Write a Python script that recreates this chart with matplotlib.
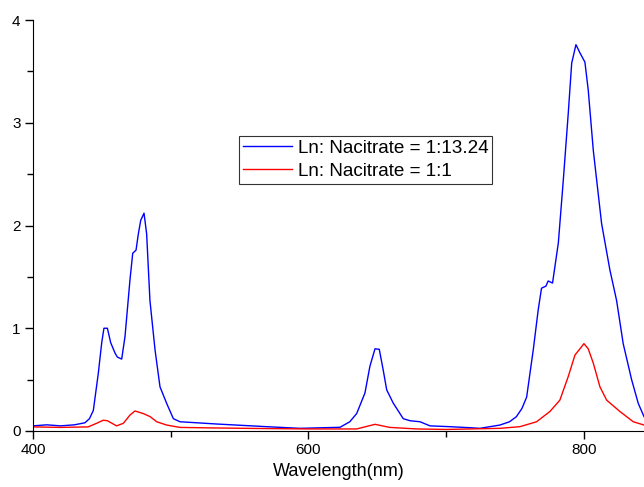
import numpy as np
import matplotlib
matplotlib.use('Agg')
from matplotlib import pyplot as plt
from matplotlib.ticker import MultipleLocator

plt.rcParams['font.family'] = ['Liberation Sans', 'DejaVu Sans']

# blue curve: Ln : Nacitrate = 1:13.24
wl_blue = [400, 410, 420, 430, 437.7, 441, 443.8, 447.4, 449.9, 451.5, 454, 456.4, 459.5, 461.2,
           464.4, 466.8, 470.4, 472.4, 474.8, 476.5, 478.2, 480.6, 482.5, 484.9, 488.6,
           492.2, 497, 501.9, 506.7, 533.4, 569.7, 593.8, 622.9, 630, 635, 641, 644.6,
           648.3, 651.4, 654.3, 656.8, 661.6, 668.8, 673.7, 681, 688.2, 702.7, 717.2,
           724.5, 739, 746, 751, 755, 758.4, 763.2, 766.8, 769.2, 772.4, 774, 777.2, 781.4, 785,
           788.6, 791.1, 794.2, 797.1, 800.7, 803.1, 806.8, 812.8, 818.8, 823.7, 828.5,
           834.6, 839.4, 843.6]
int_blue = [0.05, 0.06, 0.05, 0.06, 0.08, 0.12, 0.2, 0.56, 0.86, 1.0, 1.0, 0.86, 0.76, 0.72,
            0.70, 0.92, 1.47, 1.73, 1.76, 1.92, 2.05, 2.12, 1.92, 1.27, 0.79,
            0.43, 0.27, 0.12, 0.09, 0.068, 0.042, 0.026, 0.036, 0.09, 0.17, 0.37, 0.63,
            0.80, 0.795, 0.59, 0.40, 0.27, 0.12, 0.10, 0.09, 0.05, 0.042, 0.032,
            0.026, 0.058, 0.09, 0.14, 0.22, 0.33, 0.79, 1.18, 1.39, 1.41, 1.46, 1.44, 1.83, 2.44,
            3.09, 3.58, 3.76, 3.68, 3.59, 3.32, 2.73, 2.02, 1.57, 1.27, 0.85,
            0.50, 0.27, 0.14]

# red curve: Ln : Nacitrate = 1:1
wl_red = [400, 420, 440, 446.2, 451, 454, 460.7, 465.6, 470.4, 474, 480, 485, 489.8, 497,
          506.7, 530, 560, 600, 635, 648.3, 659, 678.5, 700, 739, 753.5, 765.6, 775.3,
          782.5, 788.6, 793.5, 797.1, 800, 803.1, 806.8, 811.6, 816.5, 826.1, 835.8, 843.6]
int_red = [0.04, 0.035, 0.04, 0.075, 0.105, 0.1, 0.05, 0.075, 0.155, 0.195, 0.17, 0.14, 0.09, 0.058,
           0.035, 0.03, 0.025, 0.02, 0.02, 0.065, 0.035, 0.02, 0.015, 0.026, 0.042, 0.09, 0.19,
           0.30, 0.53, 0.74, 0.80, 0.85, 0.80, 0.66, 0.43, 0.30, 0.19, 0.09, 0.058]

fig = plt.figure(figsize=(6.44, 4.87), dpi=100)
ax = fig.add_axes([33/644, 56/487, 1 - 33/644, 411/487])

ax.plot(wl_blue, int_blue, color='#0000ff', lw=1.0, label='Ln: Nacitrate = 1:13.24')
ax.plot(wl_red, int_red, color='#ff0000', lw=1.0, label='Ln: Nacitrate = 1:1')

ax.set_xlim(400, 843.6)
ax.set_ylim(0, 4)
ax.xaxis.set_major_locator(MultipleLocator(200))
ax.xaxis.set_minor_locator(MultipleLocator(100))
ax.yaxis.set_major_locator(MultipleLocator(1))
ax.yaxis.set_minor_locator(MultipleLocator(0.5))
ax.tick_params(which='major', direction='out', length=6, width=1, labelsize=11, pad=3)
ax.tick_params(which='minor', direction='out', length=4, width=1)
ax.spines['top'].set_visible(False)
ax.spines['right'].set_visible(False)
ax.set_xlabel('Wavelength(nm)', fontsize=13, labelpad=4)

leg = ax.legend(loc='upper left', bbox_to_anchor=(239/644, 1 - 136/487),
                bbox_transform=fig.transFigure, borderaxespad=0, fontsize=13.6,
                frameon=True, fancybox=False, handlelength=2.6, handletextpad=0.3,
                labelspacing=0.3, borderpad=0.2)
leg.get_frame().set_edgecolor('black')
leg.get_frame().set_linewidth(0.8)

fig.savefig('out.png', dpi=100)
